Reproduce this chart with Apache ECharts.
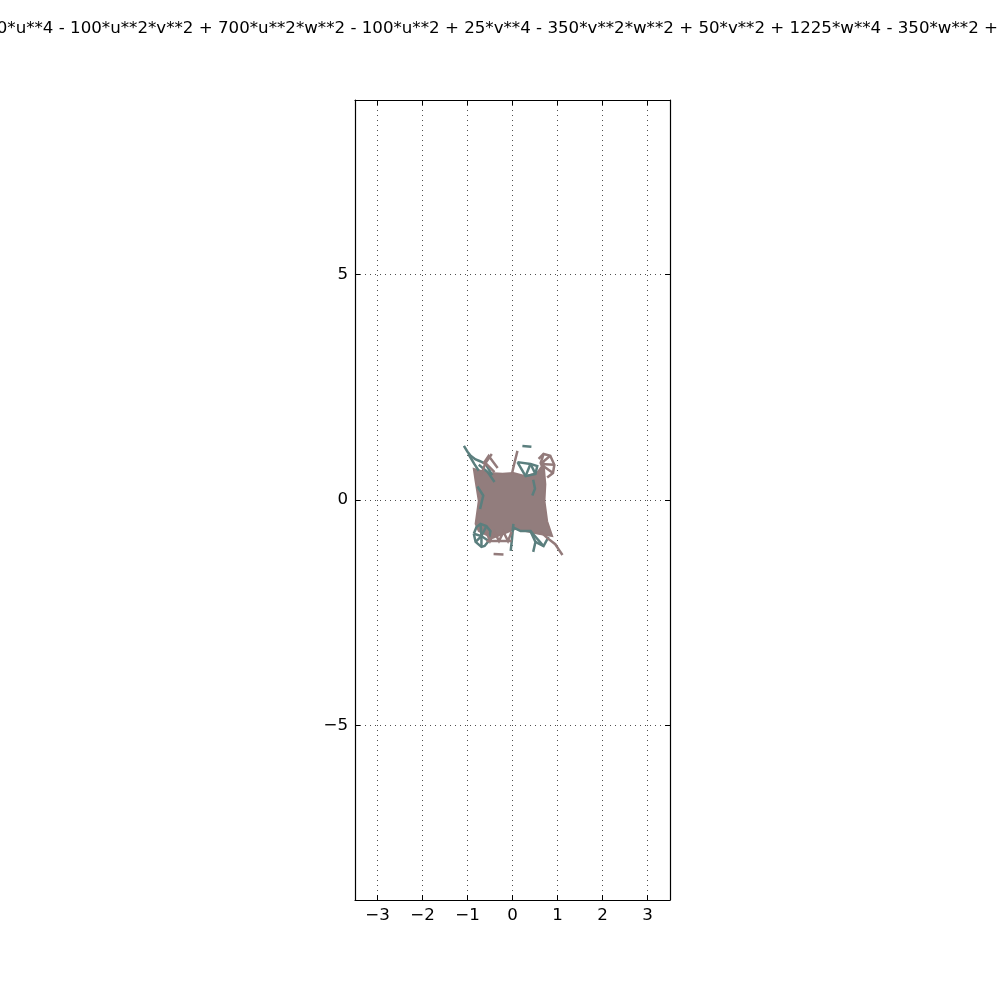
<!DOCTYPE html>
<html>
<head>
<meta charset="utf-8">
<script src="https://cdn.jsdelivr.net/npm/echarts@6/dist/echarts.min.js"></script>
<style>html,body{margin:0;padding:0;background:#fff}#c{width:1000px;height:1000px}</style>
</head>
<body>
<div id="c"></div>
<script>
const titleText = "100*u**4 - 100*u**2*v**2 + 700*u**2*w**2 - 100*u**2 + 25*v**4 - 350*v**2*w**2 + 50*v**2 + 1225*w**4 - 350*w**2 + 25";
const xRange = [-3.5, 3.5];
const yRange = [-8.87, 8.87];
const xTicks = [-3, -2, -1, 0, 1, 2, 3];
const yTicks = [-5, 0, 5];

const corePolygon = [
  [-0.86,0.69],[-0.53,0.60],[-0.22,0.58],[0.02,0.60],[0.29,0.53],[0.55,0.60],[0.69,0.80],
  [0.73,0.35],[0.71,-0.02],[0.77,-0.47],[0.88,-0.80],
  [0.58,-0.75],[0.29,-0.69],[0.07,-0.64],[-0.15,-0.73],[-0.44,-0.84],[-0.75,-0.69],
  [-0.82,-0.53],[-0.75,-0.02],[-0.82,0.42]
];

const tealPaths = [
  [[-1.08,1.20],[-1.0,1.07],[-0.93,0.98],[-0.82,0.90],[-0.72,0.86],[-0.60,0.80]],
  [[-0.98,1.02],[-0.85,0.80],[-0.75,0.65]],
  [[0.22,1.20],[0.42,1.18]],
  [[0.11,0.84],[0.40,0.80],[0.55,0.75],[0.51,0.58],[0.29,0.53],[0.11,0.84]],
  [[0.40,0.80],[0.29,0.53]],
  [[0.40,0.80],[0.51,0.58]],
  [[0.46,0.45],[0.50,0.25],[0.44,0.10]],
  [[-0.86,-0.75],[-0.80,-0.60],[-0.71,-0.53],[-0.58,-0.58],[-0.49,-0.69],[-0.53,-0.91],[-0.62,-1.02],[-0.69,-1.04],[-0.82,-0.93],[-0.86,-0.75]],
  [[-0.86,-0.75],[-0.69,-0.80],[-0.53,-0.91]],
  [[-0.71,-0.53],[-0.69,-0.80],[-0.69,-1.04]],
  [[-0.58,-0.58],[-0.69,-0.80],[-0.82,-0.93]],
  [[0.02,-0.53],[-0.01,-0.85],[-0.04,-1.13]],
  [[0.0,-0.60],[0.18,-0.69],[0.40,-0.69],[0.51,-0.93],[0.46,-1.15]],
  [[0.51,-0.93],[0.69,-1.02],[0.80,-0.82]],
  [[0.40,-0.69],[0.69,-1.02]],
  [[-0.75,0.78],[-0.55,0.62],[-0.40,0.40]],
  [[-0.60,0.80],[-0.45,0.55]],
  [[-0.78,0.30],[-0.65,0.10],[-0.72,-0.20]]
];

const brownPaths = [
  [[0.58,0.91],[0.69,1.02],[0.84,0.98],[0.93,0.78],[0.90,0.60],[0.77,0.50]],
  [[0.62,0.80],[0.69,1.02]],
  [[0.62,0.80],[0.84,0.98]],
  [[0.62,0.80],[0.93,0.78]],
  [[0.62,0.80],[0.90,0.60]],
  [[-0.02,0.55],[0.05,0.85],[0.11,1.09]],
  [[-0.46,1.02],[-0.60,0.82],[-0.71,0.53]],
  [[-0.60,0.82],[-0.40,0.62]],
  [[-0.65,0.80],[-0.53,0.98],[-0.33,0.71]],
  [[-0.42,-1.20],[-0.20,-1.21]],
  [[0.62,-0.70],[0.77,-0.84],[0.95,-0.98],[1.03,-1.10],[1.11,-1.22]],
  [[-0.58,-0.71],[-0.50,-0.91],[-0.40,-0.71],[-0.30,-0.91],[-0.20,-0.71],[-0.10,-0.91],[-0.02,-0.71]],
  [[-0.58,-0.91],[-0.02,-0.91]]
];

const brown = '#937b7b';
const coreFill = '#927d7d';
const teal = '#5b7f7e';
const fontFamily = 'DejaVu Sans';
const fmt = v => (v < 0 ? '\u2212' + Math.abs(v) : String(v));

function axis(position, range, ticks, showLabels) {
  return {
    type: 'value', position, min: range[0], max: range[1],
    axisLine: { show: true, onZero: false, lineStyle: { color: '#000', width: 1.2 } },
    axisTick: { show: true, inside: true, length: 5, customValues: ticks, lineStyle: { color: '#000', width: 1 } },
    axisLabel: showLabels
      ? { show: true, customValues: ticks, margin: 7, fontFamily, fontSize: 16.67, color: '#000', formatter: fmt }
      : { show: false },
    splitLine: showLabels
      ? { show: true, lineStyle: { color: '#222', width: 0.8, type: [1, 4] } }
      : { show: false }
  };
}

const chart = echarts.init(document.getElementById('c'), null, { renderer: 'canvas' });
chart.setOption({
  animation: false,
  backgroundColor: '#fff',
  title: {
    text: titleText, left: 'center', top: 20, padding: 0,
    textStyle: { fontFamily, fontSize: 16.67, fontWeight: 'normal', color: '#000' }
  },
  grid: { left: 355, right: 330, top: 100, bottom: 100, containLabel: false },
  xAxis: [axis('bottom', xRange, xTicks, true), axis('top', xRange, xTicks, false)],
  yAxis: [axis('left', yRange, yTicks, true), axis('right', yRange, yTicks, false)],
  series: [
    {
      type: 'custom', xAxisIndex: 0, yAxisIndex: 0, clip: true,
      data: [[0, 0]],
      renderItem: (params, api) => ({
        type: 'polygon',
        shape: { points: corePolygon.map(p => api.coord(p)) },
        style: { fill: coreFill, stroke: brown, lineWidth: 2 }
      })
    },
    {
      type: 'lines', coordinateSystem: 'cartesian2d', polyline: true, xAxisIndex: 0, yAxisIndex: 0,
      data: tealPaths.map(c => ({ coords: c })),
      lineStyle: { color: teal, width: 2.5, opacity: 1 }
    },
    {
      type: 'lines', coordinateSystem: 'cartesian2d', polyline: true, xAxisIndex: 0, yAxisIndex: 0,
      data: brownPaths.map(c => ({ coords: c })),
      lineStyle: { color: brown, width: 2.5, opacity: 1 }
    }
  ]
});
</script>
</body>
</html>
